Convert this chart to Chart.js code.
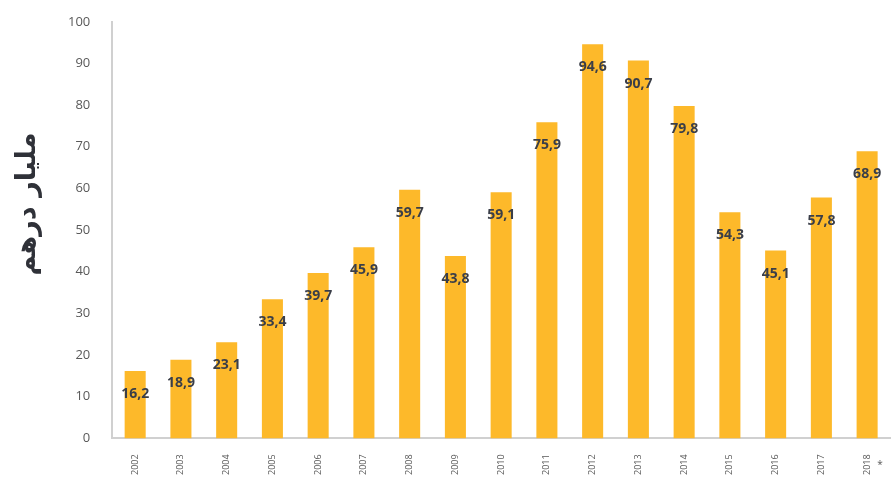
<!DOCTYPE html>
<html>
<head>
<meta charset="utf-8">
<script src="https://cdn.jsdelivr.net/npm/chart.js@4.4.0/dist/chart.umd.min.js"></script>
<style>
    html, body { margin: 0; padding: 0; background: #fff; }
    #wrap { width: 892px; height: 485px; }
</style>
</head>
<body>
<div id="wrap"><canvas id="chart"></canvas></div>
<script>
const years = ['2002', '2003', '2004', '2005', '2006', '2007', '2008', '2009', '2010',
    '2011', '2012', '2013', '2014', '2015', '2016', '2017', '2018'];
const values = [16.2, 18.9, 23.1, 33.4, 39.7, 45.9, 59.7, 43.8, 59.1,
    75.9, 94.6, 90.7, 79.8, 54.3, 45.1, 57.8, 68.9];
const yTitle = 'مليار درهم';
const lastNote = '*';

// etiquettes de valeur + titre vertical + astérisque
const barLabels = {
    id: 'barLabels',
    afterDatasetsDraw(chart) {
        const ctx = chart.ctx;
        const meta = chart.getDatasetMeta(0);
        ctx.save();
        ctx.font = 'bold 14px "Open Sans"';
        ctx.fillStyle = '#3a3e48';
        ctx.textAlign = 'center';
        ctx.textBaseline = 'middle';
        meta.data.forEach((bar, i) => {
            const txt = values[i].toFixed(1).replace('.', ',');
            ctx.fillText(txt, bar.x, bar.y + 23);
        });

        const xs = chart.scales.x;
        const lx = xs.getPixelForValue(years.length - 1);
        ctx.font = '10px "Open Sans"';
        ctx.fillStyle = '#595959';
        ctx.fillText(lastNote, lx + 13, chart.chartArea.bottom + 27);

        // titre de l'axe y
        ctx.translate(28, 204);
        ctx.rotate(-Math.PI / 2);
        ctx.font = 'bold 27px "DejaVu Sans"';
        ctx.fillStyle = '#2f3138';
        ctx.fillText(yTitle, 0, 0);
        ctx.restore();
    }
};

new Chart(document.getElementById('chart').getContext('2d'), {
    type: 'bar',
    data: {
        labels: years,
        datasets: [{
            data: values,
            backgroundColor: '#FDB92A',
            borderWidth: 0,
            barPercentage: 0.46,
            categoryPercentage: 1
        }]
    },
    options: {
        responsive: true,
        maintainAspectRatio: false,
        animation: false,
        layout: { padding: { top: 4, right: 2, left: 54, bottom: 2 } },
        plugins: {
            legend: { display: false },
            tooltip: { enabled: false }
        },
        scales: {
            x: {
                grid: { display: false },
                border: { color: '#d0d0d0', width: 2 },
                ticks: {
                    color: '#595959',
                    font: { family: 'Open Sans', size: 9 },
                    maxRotation: 90,
                    minRotation: 90,
                    padding: 8
                }
            },
            y: {
                min: 0,
                max: 100,
                grid: { display: false },
                border: { color: '#d0d0d0', width: 2 },
                ticks: {
                    stepSize: 10,
                    color: '#595959',
                    font: { family: 'Open Sans', size: 13 },
                    padding: 14
                }
            }
        }
    },
    plugins: [barLabels]
});
</script>
</body>
</html>
